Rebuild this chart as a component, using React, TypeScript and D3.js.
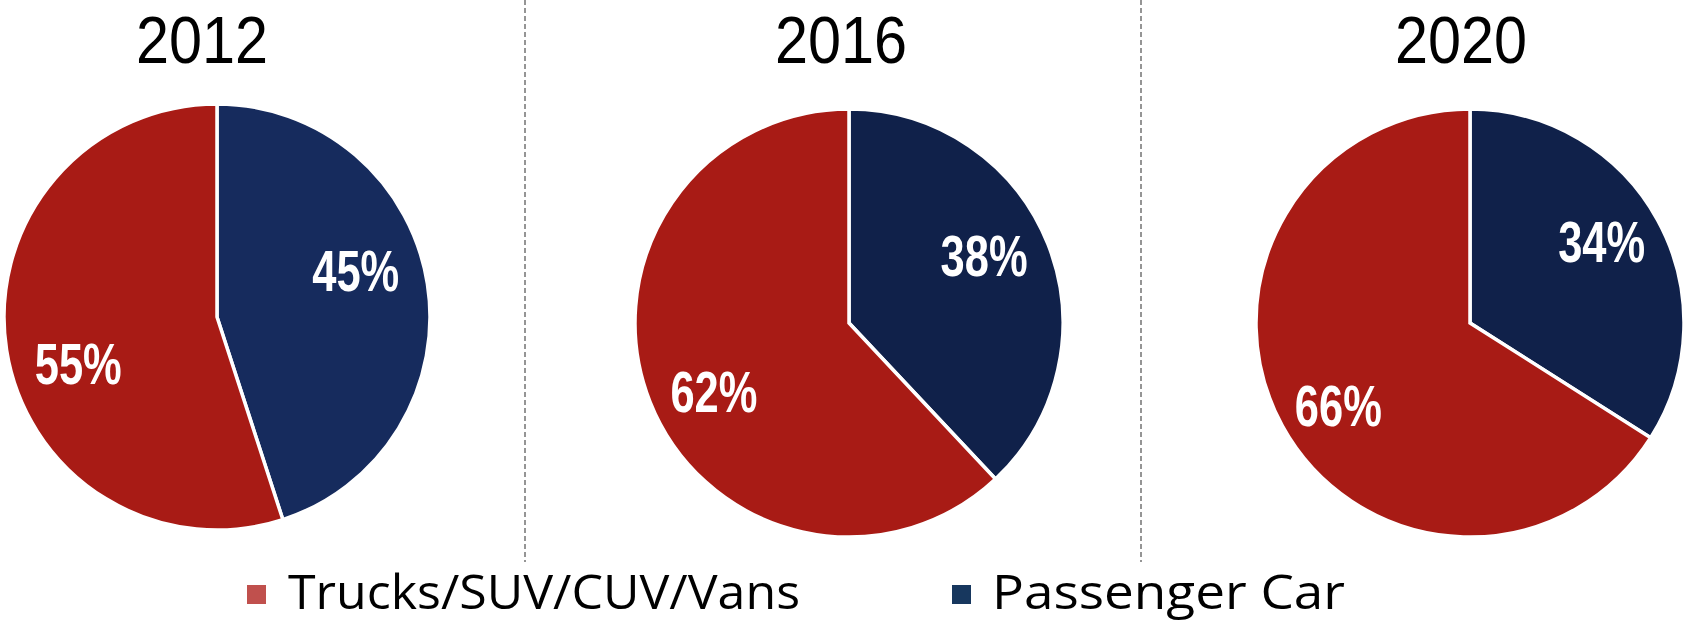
import React from "react";
import * as d3 from "d3";

// ---- data ----
const years = ["2012", "2016", "2020"];
const categories = ["Trucks/SUV/CUV/Vans", "Passenger Car"];
const trucksShare = [55, 62, 66];
const passengerShare = [45, 38, 34];

// ---- layout / style ----
const W = 1684;
const H = 622;
const PIE_CX = [217, 849, 1470];
const PIE_CY = [317, 323, 323];
const PIE_R = [213, 214, 214];
const TITLE_CX = [202, 841, 1461];
const DIVIDERS_X = [525, 1141];
const RED = "#A81B15";
const BLUE = ["#162B5D", "#10214A", "#10214A"];
const LEGEND_COLORS = ["#C0504D", "#17375E"];
// per-panel label placement (angle nudge in degrees, radius as fraction of pie radius)
const LABEL_NUDGE_DEG = [-9.5, -5, -3];
const LABEL_R_FRAC = [0.687, 0.706, 0.724];

export default function App() {
  const pie = d3
    .pie<{ key: string; value: number }>()
    .sort(null)
    .value((d) => d.value);

  return (
    <svg
      width={W}
      height={H}
      style={{ position: "absolute", left: 0, top: 0, background: "#fff" }}
    >
      {DIVIDERS_X.map((x, i) => (
        <line
          key={"div" + i}
          x1={x}
          x2={x}
          y1={0}
          y2={562}
          stroke="#8a8a8a"
          strokeWidth={1.8}
          strokeDasharray="5 3"
        />
      ))}
      {years.map((yr, i) => {
        const data = [
          { key: "passenger", value: passengerShare[i] },
          { key: "trucks", value: trucksShare[i] },
        ];
        const arcs = pie(data);
        const r = PIE_R[i];
        const arc = d3.arc<d3.PieArcDatum<any>>().innerRadius(0).outerRadius(r);
        return (
          <g key={yr}>
            <text
              x={TITLE_CX[i]}
              y={63}
              textAnchor="middle"
              fontFamily="Liberation Sans, Arial, sans-serif"
              fontSize={66}
              textLength={132}
              lengthAdjust="spacingAndGlyphs"
              fill="#000"
            >
              {yr}
            </text>
            <g transform={`translate(${PIE_CX[i]},${PIE_CY[i]})`}>
              {arcs.map((a) => (
                <path
                  key={a.data.key}
                  d={arc(a) || ""}
                  fill={a.data.key === "trucks" ? RED : BLUE[i]}
                  stroke="#fff"
                  strokeWidth={3.5}
                  strokeLinejoin="miter"
                />
              ))}
              {arcs.map((a) => {
                const mid =
                  (a.startAngle + a.endAngle) / 2 +
                  (LABEL_NUDGE_DEG[i] * Math.PI) / 180;
                const lr = r * LABEL_R_FRAC[i];
                const x = Math.sin(mid) * lr;
                const y = -Math.cos(mid) * lr;
                return (
                  <text
                    key={"l" + a.data.key}
                    x={x}
                    y={y}
                    dy="0.36em"
                    textAnchor="middle"
                    fontFamily="Liberation Sans, Arial, sans-serif"
                    fontWeight="bold"
                    fontSize={58}
                    textLength={87}
                    lengthAdjust="spacingAndGlyphs"
                    fill="#fff"
                  >
                    {a.data.value + "%"}
                  </text>
                );
              })}
            </g>
          </g>
        );
      })}
      {/* legend */}
      <g>
        <rect x={247} y={585} width={19} height={19} fill={LEGEND_COLORS[0]} />
        <text
          x={288}
          y={609}
          fontFamily="Open Sans, Noto Sans, sans-serif"
          fontSize={48}
          textLength={512}
          lengthAdjust="spacingAndGlyphs"
          fill="#000"
        >
          {categories[0]}
        </text>
        <rect x={952} y={585} width={19} height={19} fill={LEGEND_COLORS[1]} />
        <text
          x={992}
          y={609}
          fontFamily="Open Sans, Noto Sans, sans-serif"
          fontSize={48}
          textLength={353}
          lengthAdjust="spacingAndGlyphs"
          fill="#000"
        >
          {categories[1]}
        </text>
      </g>
    </svg>
  );
}
